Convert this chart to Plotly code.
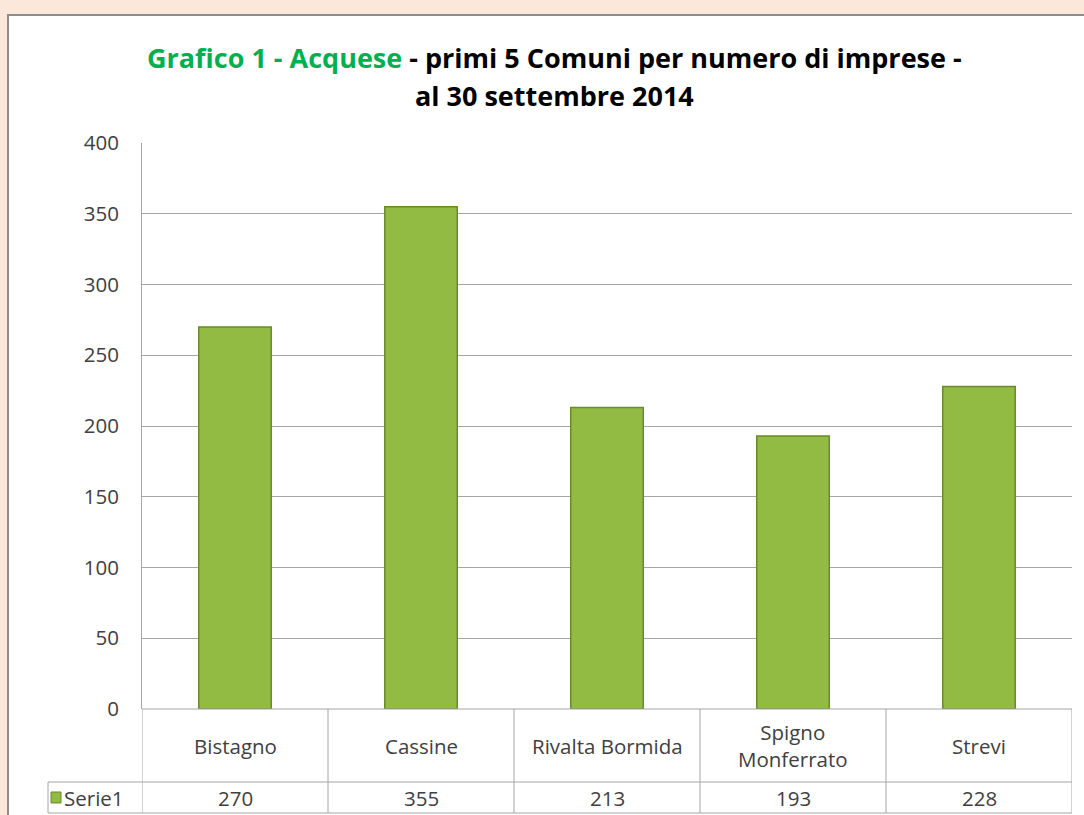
import plotly.graph_objects as go

categories = ["Bistagno", "Cassine", "Rivalta Bormida", "Spigno Monferrato", "Strevi"]
category_labels = ["Bistagno", "Cassine", "Rivalta Bormida", "Spigno<br>Monferrato", "Strevi"]
values = [270, 355, 213, 193, 228]
series_name = "Serie1"
y_ticks = [0, 50, 100, 150, 200, 250, 300, 350, 400]

W, H = 1084, 815
def fx(px):
    return px / W
def fy(py):
    return 1 - py / H

FONT = "Open Sans"
TXT = "#404040"
GRID = "#a6a6a6"

fig = go.Figure()
fig.add_trace(go.Bar(
    x=categories, y=values, name=series_name,
    marker=dict(color="#92bb44", line=dict(color="#6a8a2c", width=1.5)),
    width=0.39, hoverinfo="x+y",
))

shapes = []
# card
shapes.append(dict(type="rect", xref="paper", yref="paper", x0=fx(8), x1=fx(1095), y0=fy(830), y1=fy(15),
                   fillcolor="white", line=dict(color="#8c8c8c", width=2), layer="below"))
# table horizontal lines
for py in [782, 813]:
    shapes.append(dict(type="line", xref="paper", yref="paper", x0=fx(48), x1=fx(1072), y0=fy(py), y1=fy(py),
                       line=dict(color=GRID, width=1)))
shapes.append(dict(type="line", xref="paper", yref="paper", x0=fx(142), x1=fx(1072), y0=fy(709), y1=fy(709),
                   line=dict(color=GRID, width=1)))
# table vertical lines at category boundaries
n = len(categories)
for i in range(n + 1):
    shapes.append(dict(type="line", xref="x", yref="paper", x0=i - 0.5, x1=i - 0.5, y0=fy(813), y1=fy(709),
                       line=dict(color=GRID, width=1)))
shapes.append(dict(type="line", xref="paper", yref="paper", x0=fx(48), x1=fx(48), y0=fy(813), y1=fy(782),
                   line=dict(color=GRID, width=1)))
# legend key
shapes.append(dict(type="rect", xref="paper", yref="paper", x0=fx(51), x1=fx(61), y0=fy(803), y1=fy(792),
                   fillcolor="#92bb44", line=dict(color="#6a8a2c", width=1)))

annotations = []
for i, (lab, v) in enumerate(zip(category_labels, values)):
    annotations.append(dict(x=categories[i], xref="x", y=fy(745.5), yref="paper", text=lab, showarrow=False,
                            font=dict(family=FONT, size=20.5, color=TXT), xanchor="center", yanchor="middle"))
    annotations.append(dict(x=categories[i], xref="x", y=fy(797.5), yref="paper", text=str(v), showarrow=False,
                            font=dict(family=FONT, size=20.5, color=TXT), xanchor="center", yanchor="middle"))
annotations.append(dict(x=fx(62), xref="paper", y=fy(797.5), yref="paper", text=series_name, showarrow=False,
                        font=dict(family=FONT, size=20.5, color=TXT), xanchor="left", yanchor="middle"))
annotations.append(dict(x=fx(554), xref="paper", y=fy(57), yref="paper",
                        text="<span style='color:#00b050'>Grafico 1 - Acquese</span> - primi 5 Comuni per numero di imprese -",
                        showarrow=False, font=dict(family=FONT, size=27, color="#000000", weight="bold"),
                        xanchor="center", yanchor="middle"))
annotations.append(dict(x=fx(554), xref="paper", y=fy(96), yref="paper", text="al 30 settembre 2014",
                        showarrow=False, font=dict(family=FONT, size=27, color="#000000", weight="bold"),
                        xanchor="center", yanchor="middle"))

fig.update_layout(
    width=W, height=H,
    margin=dict(l=0, r=0, t=0, b=0, pad=0, autoexpand=False),
    paper_bgcolor="#fce8da",
    plot_bgcolor="rgba(0,0,0,0)",
    showlegend=False,
    shapes=shapes,
    annotations=annotations,
    xaxis=dict(domain=[fx(142), fx(1072)], range=[-0.5, n - 0.5], showticklabels=False, showgrid=False,
               showline=False, zeroline=False, fixedrange=True, automargin=False),
    yaxis=dict(domain=[fy(709), fy(143)], range=[0, 400], tickvals=y_ticks, showgrid=True, gridcolor=GRID,
               gridwidth=1, zeroline=False, showline=True, linecolor=GRID, linewidth=1, ticks="",
               ticklabelstandoff=18, automargin=False, fixedrange=True,
               tickfont=dict(family=FONT, size=20.5, color=TXT)),
)

fig.write_html("out.html",
               post_script="document.body.style.margin='0';document.body.style.overflow='hidden';"
                           "document.documentElement.style.overflow='hidden';",
               config={"displayModeBar": False})
